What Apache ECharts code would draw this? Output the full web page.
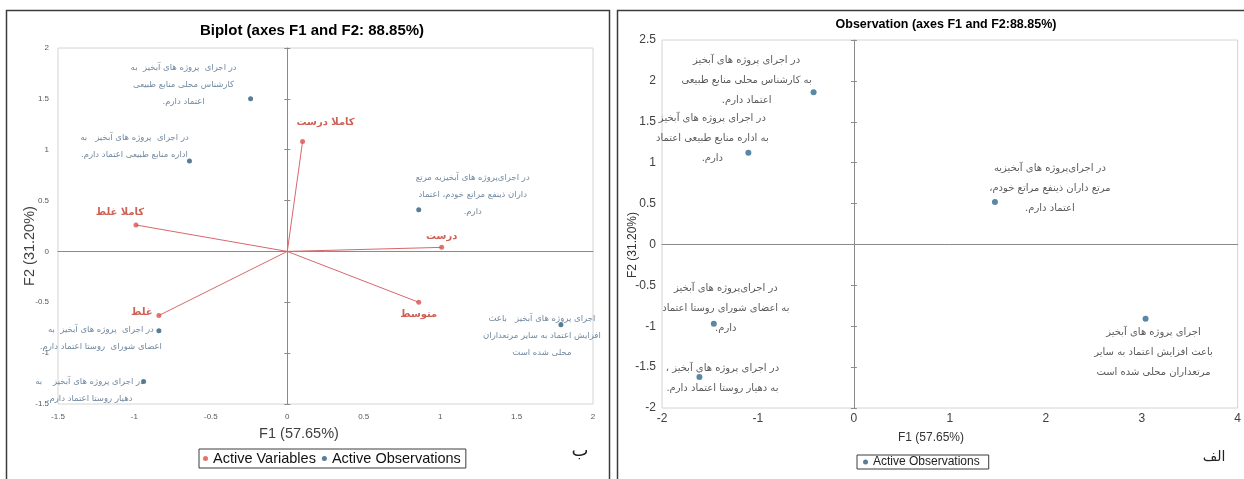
<!DOCTYPE html>
<html>
<head>
<meta charset="utf-8">
<script src="https://cdn.jsdelivr.net/npm/echarts@6/dist/echarts.min.js"></script>
<style>
  html, body { margin: 0; padding: 0; background: #ffffff; }
  #main { width: 1244px; height: 479px; }
</style>
</head>
<body>
<div id="main"></div>
<script>
// Response categories (active variables) on F1 / F2
const variableNames = ['کاملا درست', 'درست', 'متوسط', 'غلط', 'کاملا غلط'];
const variableF1 = [0.10, 1.01, 0.86, -0.84, -0.99];
const variableF2 = [1.08, 0.04, -0.50, -0.63, 0.26];

// Statements (active observations) as laid out in the biplot
const biplotObsLines = [
  ['در اجرای  پروژه های آبخیز  به', 'کارشناس محلی منابع طبیعی', 'اعتماد دارم.'],
  ['در اجرای  پروژه های آبخیز   به', 'اداره منابع طبیعی اعتماد دارم.'],
  ['در اجرای‌پروژه های آبخیزیه مرتع', 'داران ذینفع مراتع خودم، اعتماد', 'دارم.'],
  ['اجرای پروژه های آبخیز   باعث', 'افزایش اعتماد به سایر مرتعداران', 'محلی شده است'],
  ['در اجرای  پروژه های آبخیز  به', 'اعضای شورای  روستا اعتماد دارم.'],
  ['در اجرای پروژه های آبخیز    به', 'دهیار روستا اعتماد دارم.']
];
const biplotObsF1 = [-0.24, -0.64, 0.86, 1.79, -0.84, -0.94];
const biplotObsF2 = [1.50, 0.89, 0.41, -0.72, -0.78, -1.28];

// Same statements on the observation map
const obsLines = [
  ['در اجرای پروژه های آبخیز', 'به کارشناس محلی منابع طبیعی', 'اعتماد دارم.'],
  ['در اجرای پروژه های آبخیز', 'به اداره منابع طبیعی اعتماد', 'دارم.'],
  ['در اجرای‌پروژه های آبخیزیه', 'مرتع داران ذینفع مراتع خودم،', 'اعتماد دارم.'],
  ['اجرای پروژه های آبخیز', 'باعث افزایش اعتماد به سایر', 'مرتعداران محلی شده است'],
  ['در اجرای‌پروژه های آبخیز', 'به اعضای شورای روستا اعتماد', 'دارم.'],
  ['در اجرای پروژه های آبخیز ،', 'به دهیار روستا اعتماد دارم.']
];
const obsF1 = [-0.42, -1.10, 1.47, 3.04, -1.46, -1.61];
const obsF2 = [1.86, 1.12, 0.52, -0.91, -0.97, -1.62];

// Axis titles and chart titles
const biplotTitle = 'Biplot (axes F1 and F2: 88.85%)';
const obsTitle = 'Observation (axes F1 and F2:88.85%)';
const f1Name = 'F1 (57.65%)';
const f2Name = 'F2 (31.20%)';

// Label placement relative to each point (pixels)
const varLabelShift = [[23, -19], [0, -11], [0, 12], [-17, -3], [-16, -13]];
const biplotLabelShift = [[-67, -14], [-55, -15], [54, -15], [-19, 11], [-58, 8], [-54, 9]];
const obsLabelShift = [[-67, -12], [-36, -14], [55, -14], [8, 34], [12, -15], [23, 1]];

const RLM = '\u200F';
const rtl = lines => lines.map(l => RLM + l + RLM).join('\n');
const LATIN = '"Liberation Sans", Arial, sans-serif';
const PERSIAN = '"DejaVu Sans", sans-serif';

const chart = echarts.init(document.getElementById('main'), null, { renderer: 'canvas', width: 1244, height: 479 });

const hiddenLabel = { show: false };
const zeroLine = { lineStyle: { color: '#8a8a8a', width: 1 } };

function labelAxisX(grid, min, max, interval, fontSize, color, margin) {
  return {
    type: 'value', gridIndex: grid, min, max, interval, position: 'bottom',
    axisLine: { show: false, onZero: false }, axisTick: { show: false }, splitLine: { show: false },
    axisLabel: { fontSize, color, margin, fontFamily: LATIN }
  };
}
function labelAxisY(grid, min, max, interval, fontSize, color, margin) {
  return {
    type: 'value', gridIndex: grid, min, max, interval, position: 'left',
    axisLine: { show: false, onZero: false }, axisTick: { show: false }, splitLine: { show: false },
    axisLabel: { fontSize, color, margin, fontFamily: LATIN }
  };
}
function zeroAxisX(grid, min, max, interval) {
  return {
    type: 'value', gridIndex: grid, min, max, interval, position: 'bottom',
    axisLine: Object.assign({ show: true, onZero: true }, zeroLine),
    axisTick: { show: false }, axisLabel: hiddenLabel, splitLine: { show: false }
  };
}
function zeroAxisY(grid, min, max, interval, inside) {
  return {
    type: 'value', gridIndex: grid, min, max, interval, position: 'left',
    axisLine: { show: true, onZero: true, lineStyle: { color: '#8a8a8a', width: 1, opacity: inside ? 0 : 1 } },
    axisTick: { show: true, inside, length: 3, lineStyle: { color: '#8a8a8a' } },
    axisLabel: hiddenLabel, splitLine: { show: false }
  };
}

const option = {
  animation: false,
  backgroundColor: '#ffffff',
  grid: [
    { left: 58, top: 48, width: 535, height: 356, show: true, borderColor: '#d4d4d4', borderWidth: 1 },
    { left: 662, top: 40, width: 577, height: 368, show: true, borderColor: '#d4d4d4', borderWidth: 1 }
  ],
  xAxis: [
    labelAxisX(0, -1.5, 2, 0.5, 8, '#595959', 9),
    zeroAxisX(0, -1.5, 2, 0.5),
    labelAxisX(1, -2, 4, 1, 12, '#404040', 5),
    zeroAxisX(1, -2, 4, 1)
  ],
  yAxis: [
    labelAxisY(0, -1.5, 2, 0.5, 8, '#595959', 9),
    zeroAxisY(0, -1.5, 2, 0.5, false),
    zeroAxisY(0, -1.5, 2, 0.5, true),
    labelAxisY(1, -2, 2.5, 0.5, 12, '#404040', 6),
    zeroAxisY(1, -2, 2.5, 0.5, false),
    zeroAxisY(1, -2, 2.5, 0.5, true)
  ],
  legend: [
    {
      data: ['Active Variables', 'Active Observations'],
      left: 199, top: 449, orient: 'horizontal',
      icon: 'circle', itemWidth: 5, itemHeight: 5, itemGap: 6,
      padding: [2, 5, 2, 4], borderColor: '#3c3c3c', borderWidth: 1,
      textStyle: { fontSize: 14.5, color: '#111', fontFamily: LATIN }
    },
    {
      data: ['Active Observations'],
      left: 857, top: 455, orient: 'horizontal',
      icon: 'circle', itemWidth: 5, itemHeight: 5,
      padding: [1, 9, 1, 6], borderColor: '#3c3c3c', borderWidth: 1,
      textStyle: { fontSize: 12, color: '#222', fontFamily: LATIN }
    }
  ],
  series: [
    {
      name: 'Active Variables', type: 'scatter', xAxisIndex: 0, yAxisIndex: 0, z: 4,
      symbol: 'circle', symbolSize: 5,
      itemStyle: { color: '#d9534f' },
      data: variableNames.map((n, i) => ({
        name: n, value: [variableF1[i], variableF2[i]],
        label: { offset: varLabelShift[i] }
      })),
      label: {
        show: true, position: 'inside', formatter: p => rtl([p.name]),
        color: '#c0392b', fontSize: 10, fontWeight: 'bold', fontFamily: PERSIAN
      }
    },
    {
      name: 'vectors', type: 'custom', xAxisIndex: 0, yAxisIndex: 0, z: 3, silent: true,
      data: variableF1.map((x, i) => [x, variableF2[i]]),
      renderItem: (params, api) => {
        const o = api.coord([0, 0]);
        const p = api.coord([api.value(0), api.value(1)]);
        return { type: 'line', shape: { x1: o[0], y1: o[1], x2: p[0], y2: p[1] }, style: { stroke: '#d8676b', lineWidth: 1 } };
      }
    },
    {
      name: 'Active Observations', type: 'scatter', xAxisIndex: 0, yAxisIndex: 0, z: 4,
      symbol: 'circle', symbolSize: 5,
      itemStyle: { color: '#2e5c7a' },
      data: biplotObsLines.map((lines, i) => ({
        name: lines.join(' '), value: [biplotObsF1[i], biplotObsF2[i]],
        label: { offset: biplotLabelShift[i], formatter: rtl(lines) }
      })),
      label: {
        show: true, position: 'inside', color: '#4d6b88',
        fontSize: 8.5, lineHeight: 17, fontFamily: PERSIAN
      }
    },
    {
      name: 'Active Observations', type: 'scatter', xAxisIndex: 2, yAxisIndex: 3, z: 4,
      symbol: 'circle', symbolSize: 6,
      itemStyle: { color: '#2e6a8e' },
      data: obsLines.map((lines, i) => ({
        name: lines.join(' '), value: [obsF1[i], obsF2[i]],
        label: { offset: obsLabelShift[i], formatter: rtl(lines) }
      })),
      label: {
        show: true, position: 'inside', color: '#2f2f2f',
        fontSize: 10, lineHeight: 20, fontFamily: PERSIAN
      }
    }
  ],
  graphic: [
    { type: 'rect', silent: true, shape: { x: 6.5, y: 10.5, width: 603, height: 500 }, style: { fill: 'none', stroke: '#3c3c3c', lineWidth: 1.5 } },
    { type: 'rect', silent: true, shape: { x: 617.5, y: 10.5, width: 700, height: 500 }, style: { fill: 'none', stroke: '#3c3c3c', lineWidth: 1.5 } },
    { type: 'text', silent: true, x: 312, y: 31, style: { text: biplotTitle, font: 'bold 15px ' + LATIN, fill: '#000', textAlign: 'center', textVerticalAlign: 'middle', align: 'center', verticalAlign: 'middle' } },
    { type: 'text', silent: true, x: 946, y: 25, style: { text: obsTitle, font: 'bold 12.5px ' + LATIN, fill: '#000', textAlign: 'center', textVerticalAlign: 'middle', align: 'center', verticalAlign: 'middle' } },
    { type: 'text', silent: true, x: 299, y: 434, style: { text: f1Name, font: '14.5px ' + LATIN, fill: '#404040', textAlign: 'center', textVerticalAlign: 'middle', align: 'center', verticalAlign: 'middle' } },
    { type: 'text', silent: true, x: 30, y: 246, rotation: Math.PI / 2, style: { text: f2Name, font: '14.5px ' + LATIN, fill: '#404040', textAlign: 'center', textVerticalAlign: 'middle', align: 'center', verticalAlign: 'middle' } },
    { type: 'text', silent: true, x: 931, y: 438, style: { text: f1Name, font: '12px ' + LATIN, fill: '#333', textAlign: 'center', textVerticalAlign: 'middle', align: 'center', verticalAlign: 'middle' } },
    { type: 'text', silent: true, x: 633, y: 245, rotation: Math.PI / 2, style: { text: f2Name, font: '12px ' + LATIN, fill: '#333', textAlign: 'center', textVerticalAlign: 'middle', align: 'center', verticalAlign: 'middle' } },
    { type: 'text', silent: true, x: 580, y: 451, style: { text: 'ب', font: '18px ' + PERSIAN, fill: '#222', textAlign: 'center', textVerticalAlign: 'middle', align: 'center', verticalAlign: 'middle' } },
    { type: 'text', silent: true, x: 1214, y: 457, style: { text: 'الف', font: '14px ' + PERSIAN, fill: '#222', textAlign: 'center', textVerticalAlign: 'middle', align: 'center', verticalAlign: 'middle' } }
  ]
};

chart.setOption(option);
</script>
</body>
</html>
